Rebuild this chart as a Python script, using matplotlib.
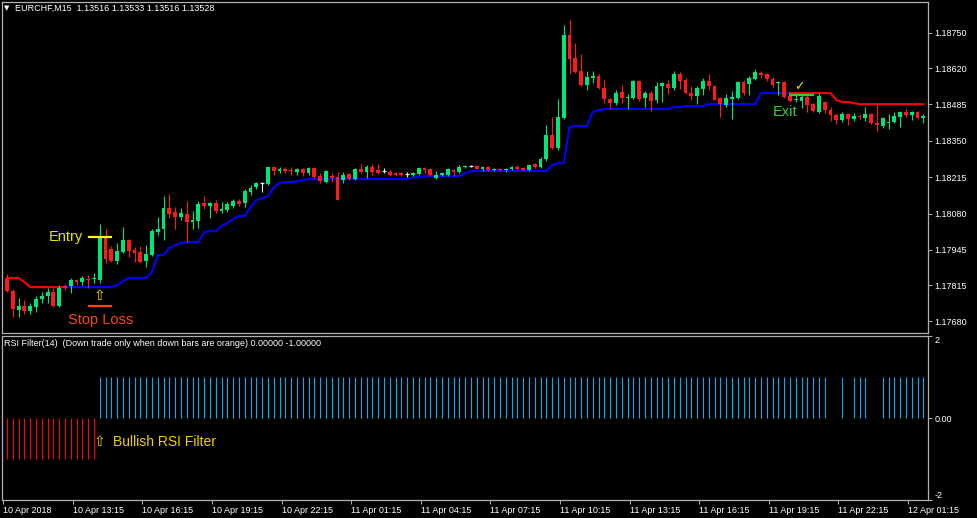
import matplotlib
matplotlib.use("Agg")
import matplotlib.pyplot as plt
import numpy as np

plt.rcParams['font.family'] = ['Liberation Sans', 'DejaVu Sans']

# ---------------- data ----------------
symbol_title = "EURCHF,M15  1.13516 1.13533 1.13516 1.13528"
ind_title = "RSI Filter(14)  (Down trade only when down bars are orange) 0.00000 -1.00000"

opens = [1.17837, 1.17792, 1.17722, 1.17737, 1.17718, 1.17733, 1.17763, 1.17774, 1.17789, 1.17737,
         1.17811, 1.17811, 1.17833, 1.17826, 1.17837, 1.17837, 1.17833, 1.17993, 1.17948, 1.17904,
         1.17937, 1.17982, 1.17945, 1.17937, 1.17904, 1.17926, 1.18011, 1.18023, 1.18101, 1.18085,
         1.18067, 1.18078, 1.18048, 1.18052, 1.18119, 1.18108, 1.18119, 1.18089, 1.18093, 1.18108,
         1.18126, 1.18119, 1.18160, 1.18178, 1.18193, 1.18189, 1.18252, 1.18238, 1.18245, 1.18242,
         1.18234, 1.18245, 1.18230, 1.18249, 1.18219, 1.18197, 1.18219, 1.18215, 1.18204, 1.18227,
         1.18208, 1.18245, 1.18234, 1.18252, 1.18242, 1.18238, 1.18234, 1.18230, 1.18230, 1.18227,
         1.18223, 1.18227, 1.18249, 1.18245, 1.18212, 1.18223, 1.18223, 1.18242, 1.18234, 1.18252,
         1.18256, 1.18256, 1.18245, 1.18252, 1.18242, 1.18245, 1.18242, 1.18245, 1.18252, 1.18249,
         1.18242, 1.18264, 1.18252, 1.18282, 1.18371, 1.18323, 1.18434, 1.18742, 1.18657, 1.18609,
         1.18557, 1.18583, 1.18590, 1.18545, 1.18505, 1.18490, 1.18531, 1.18508, 1.18508, 1.18572,
         1.18508, 1.18527, 1.18501, 1.18553, 1.18560, 1.18545, 1.18597, 1.18575, 1.18527, 1.18516,
         1.18542, 1.18572, 1.18553, 1.18508, 1.18482, 1.18505, 1.18508, 1.18568, 1.18560, 1.18579,
         1.18601, 1.18597, 1.18579, 1.18564, 1.18568, 1.18516, 1.18501, 1.18497, 1.18512, 1.18486,
         1.18457, 1.18494, 1.18464, 1.18445, 1.18427, 1.18449, 1.18431, 1.18442, 1.18434, 1.18449,
         1.18416, 1.18405, 1.18416, 1.18419, 1.18438, 1.18457, 1.18445, 1.18457, 1.18434]
highs = [1.17855, 1.17800, 1.17767, 1.17759, 1.17748, 1.17774, 1.17789, 1.17804, 1.17804, 1.17815,
         1.17818, 1.17841, 1.17837, 1.17848, 1.17852, 1.17859, 1.18041, 1.18023, 1.17959, 1.17971,
         1.18030, 1.17985, 1.17956, 1.17959, 1.17963, 1.18023, 1.18067, 1.18145, 1.18152, 1.18104,
         1.18101, 1.18126, 1.18089, 1.18126, 1.18145, 1.18123, 1.18130, 1.18123, 1.18123, 1.18134,
         1.18134, 1.18171, 1.18186, 1.18197, 1.18197, 1.18256, 1.18256, 1.18252, 1.18252, 1.18252,
         1.18249, 1.18249, 1.18252, 1.18252, 1.18230, 1.18242, 1.18230, 1.18234, 1.18234, 1.18230,
         1.18249, 1.18264, 1.18260, 1.18264, 1.18264, 1.18249, 1.18242, 1.18234, 1.18234, 1.18234,
         1.18234, 1.18252, 1.18252, 1.18249, 1.18238, 1.18234, 1.18249, 1.18245, 1.18260, 1.18260,
         1.18260, 1.18260, 1.18256, 1.18256, 1.18249, 1.18249, 1.18249, 1.18256, 1.18260, 1.18252,
         1.18264, 1.18267, 1.18290, 1.18408, 1.18438, 1.18505, 1.18779, 1.18798, 1.18712, 1.18672,
         1.18609, 1.18609, 1.18597, 1.18575, 1.18508, 1.18538, 1.18557, 1.18523, 1.18575, 1.18575,
         1.18534, 1.18534, 1.18568, 1.18568, 1.18575, 1.18609, 1.18605, 1.18583, 1.18553, 1.18553,
         1.18583, 1.18597, 1.18557, 1.18512, 1.18523, 1.18534, 1.18572, 1.18575, 1.18590, 1.18616,
         1.18609, 1.18601, 1.18586, 1.18572, 1.18572, 1.18534, 1.18523, 1.18520, 1.18531, 1.18490,
         1.18527, 1.18497, 1.18475, 1.18453, 1.18457, 1.18453, 1.18453, 1.18449, 1.18475, 1.18453,
         1.18486, 1.18438, 1.18449, 1.18457, 1.18460, 1.18468, 1.18460, 1.18460, 1.18449]
lows = [1.17789, 1.17696, 1.17696, 1.17707, 1.17707, 1.17715, 1.17748, 1.17748, 1.17733, 1.17733,
        1.17796, 1.17785, 1.17815, 1.17815, 1.17804, 1.17822, 1.17822, 1.17896, 1.17900, 1.17893,
        1.17933, 1.17919, 1.17900, 1.17896, 1.17881, 1.17922, 1.18000, 1.17982, 1.18063, 1.18023,
        1.18056, 1.17974, 1.18023, 1.18026, 1.18097, 1.18063, 1.18082, 1.18082, 1.18085, 1.18101,
        1.18108, 1.18104, 1.18149, 1.18171, 1.18160, 1.18186, 1.18223, 1.18230, 1.18230, 1.18223,
        1.18223, 1.18219, 1.18223, 1.18212, 1.18193, 1.18193, 1.18197, 1.18130, 1.18193, 1.18204,
        1.18204, 1.18230, 1.18212, 1.18223, 1.18227, 1.18230, 1.18219, 1.18219, 1.18219, 1.18215,
        1.18219, 1.18223, 1.18230, 1.18219, 1.18208, 1.18219, 1.18219, 1.18219, 1.18230, 1.18249,
        1.18252, 1.18245, 1.18238, 1.18238, 1.18238, 1.18238, 1.18234, 1.18242, 1.18242, 1.18238,
        1.18238, 1.18249, 1.18249, 1.18275, 1.18319, 1.18316, 1.18431, 1.18597, 1.18601, 1.18553,
        1.18538, 1.18564, 1.18542, 1.18490, 1.18468, 1.18482, 1.18490, 1.18468, 1.18505, 1.18497,
        1.18475, 1.18460, 1.18490, 1.18494, 1.18523, 1.18538, 1.18542, 1.18523, 1.18501, 1.18486,
        1.18520, 1.18538, 1.18501, 1.18438, 1.18475, 1.18431, 1.18505, 1.18520, 1.18520, 1.18575,
        1.18583, 1.18572, 1.18549, 1.18520, 1.18508, 1.18494, 1.18494, 1.18471, 1.18457, 1.18457,
        1.18453, 1.18453, 1.18423, 1.18412, 1.18419, 1.18408, 1.18423, 1.18431, 1.18423, 1.18412,
        1.18386, 1.18397, 1.18394, 1.18416, 1.18401, 1.18438, 1.18427, 1.18431, 1.18416]
closes = [1.17792, 1.17726, 1.17737, 1.17718, 1.17737, 1.17763, 1.17774, 1.17789, 1.17737, 1.17804,
          1.17804, 1.17833, 1.17826, 1.17841, 1.17833, 1.17841, 1.17993, 1.17911, 1.17904, 1.17941,
          1.17982, 1.17941, 1.17933, 1.17900, 1.17930, 1.18015, 1.18023, 1.18101, 1.18078, 1.18067,
          1.18082, 1.18048, 1.18056, 1.18115, 1.18108, 1.18119, 1.18089, 1.18097, 1.18115, 1.18126,
          1.18115, 1.18163, 1.18175, 1.18193, 1.18193, 1.18252, 1.18238, 1.18245, 1.18238, 1.18238,
          1.18245, 1.18230, 1.18249, 1.18215, 1.18200, 1.18238, 1.18212, 1.18130, 1.18223, 1.18208,
          1.18245, 1.18234, 1.18252, 1.18234, 1.18230, 1.18238, 1.18223, 1.18223, 1.18223, 1.18227,
          1.18230, 1.18249, 1.18242, 1.18223, 1.18223, 1.18230, 1.18245, 1.18234, 1.18252, 1.18256,
          1.18256, 1.18245, 1.18252, 1.18242, 1.18245, 1.18242, 1.18245, 1.18252, 1.18245, 1.18242,
          1.18260, 1.18252, 1.18282, 1.18371, 1.18323, 1.18438, 1.18742, 1.18653, 1.18605, 1.18557,
          1.18586, 1.18590, 1.18545, 1.18505, 1.18490, 1.18527, 1.18508, 1.18512, 1.18572, 1.18505,
          1.18527, 1.18497, 1.18553, 1.18564, 1.18545, 1.18597, 1.18572, 1.18527, 1.18516, 1.18545,
          1.18572, 1.18553, 1.18501, 1.18486, 1.18508, 1.18512, 1.18568, 1.18527, 1.18583, 1.18605,
          1.18594, 1.18579, 1.18557, 1.18568, 1.18512, 1.18497, 1.18505, 1.18512, 1.18482, 1.18460,
          1.18516, 1.18464, 1.18445, 1.18427, 1.18449, 1.18431, 1.18442, 1.18438, 1.18449, 1.18416,
          1.18408, 1.18434, 1.18419, 1.18442, 1.18457, 1.18445, 1.18457, 1.18434, 1.18442]

# trailing support (blue) from bar 10 to bar 135
support_start = 10
support_vals = [1.17807, 1.17807, 1.17807, 1.17807, 1.17807, 1.17807, 1.17807, 1.17807, 1.17807,
                1.17815, 1.17830, 1.17841, 1.17841, 1.17841, 1.17841, 1.17863, 1.17926, 1.17926,
                1.17952, 1.17963, 1.17971, 1.17974, 1.17974, 1.17974, 1.18011, 1.18015, 1.18015,
                1.18034, 1.18045, 1.18060, 1.18071, 1.18071, 1.18104, 1.18130, 1.18137, 1.18145,
                1.18178, 1.18193, 1.18197, 1.18197, 1.18200, 1.18204,
                1.18208, 1.18208, 1.18208, 1.18208, 1.18208, 1.18208, 1.18208, 1.18208, 1.18208,
                1.18208, 1.18208, 1.18208, 1.18208, 1.18208, 1.18208, 1.18208, 1.18208, 1.18208,
                1.18215, 1.18215, 1.18219, 1.18219, 1.18219, 1.18219, 1.18219, 1.18219, 1.18219,
                1.18230, 1.18238, 1.18238, 1.18238, 1.18238, 1.18238, 1.18238, 1.18238, 1.18238,
                1.18238, 1.18238, 1.18238, 1.18238, 1.18238, 1.18238, 1.18260, 1.18267, 1.18267,
                1.18401, 1.18405, 1.18405, 1.18405, 1.18456, 1.18464,
                1.18468, 1.18468, 1.18468, 1.18468, 1.18468, 1.18468, 1.18468, 1.18468, 1.18468,
                1.18468, 1.18468, 1.18468, 1.18475, 1.18475, 1.18479, 1.18479, 1.18479, 1.18479,
                1.18486, 1.18486, 1.18486, 1.18486, 1.18486, 1.18486, 1.18486, 1.18486, 1.18486,
                1.18527, 1.18527, 1.18527, 1.18527, 1.18527, 1.18527]

# trailing resistance (red): bars 0-10 and bars 135-158
resist1_start = 0
resist1_vals = [1.17841, 1.17841, 1.17841, 1.17826, 1.17807, 1.17807, 1.17807, 1.17807, 1.17807,
                1.17807, 1.17807]
resist2_start = 135
resist2_vals = [1.18527, 1.18527, 1.18527, 1.18527, 1.18527, 1.18527, 1.18527, 1.18527, 1.18501,
                1.18494, 1.18494, 1.18490, 1.18486, 1.18486, 1.18486, 1.18486, 1.18486, 1.18486,
                1.18486, 1.18486, 1.18486, 1.18486, 1.18486, 1.18486]

# RSI filter histogram (+1 bullish, -1 bearish, 0 none), bars 0-158
rsi_filter = [-1, -1, -1, -1, -1, -1, -1, -1, -1, -1, -1, -1, -1, -1, -1, -1,
              1, 1, 1, 1, 1, 1, 1, 1, 1, 1, 1, 1, 1, 1, 1, 1, 1, 1, 1, 1, 1, 1, 1, 1,
              1, 1, 1, 1, 1, 1, 1, 1, 1, 1, 1, 1, 1, 1, 1, 1, 1, 1, 1, 1, 1, 1, 1, 1,
              1, 1, 1, 1, 1, 1, 1, 1, 1, 1, 1, 1, 1, 1, 1, 1, 1, 1, 1, 1, 1, 1, 1, 1,
              1, 1, 1, 1, 1, 1, 1, 1, 1, 1, 1, 1, 1, 1, 1, 1, 1, 1, 1, 1, 1, 1, 1, 1,
              1, 1, 1, 1, 1, 1, 1, 1, 1, 1, 1, 1, 1, 1, 1, 1, 1, 1, 1, 1, 1, 1, 1, 1,
              1, 1, 1, 1, 1, 1, 0, 0, 1, 0, 1, 1, 1, 0, 0, 1, 1, 1, 1, 1, 1, 1, 1]

price_ticks = [1.18750, 1.18620, 1.18485, 1.18350, 1.18215, 1.18080, 1.17945, 1.17815, 1.17680]
time_tick_bars = [0, 12, 24, 36, 48, 60, 72, 84, 96, 108, 120, 132, 144, 156]
time_tick_labels = ["10 Apr 2018", "10 Apr 13:15", "10 Apr 16:15", "10 Apr 19:15", "10 Apr 22:15",
                    "11 Apr 01:15", "11 Apr 04:15", "11 Apr 07:15", "11 Apr 10:15", "11 Apr 13:15",
                    "11 Apr 16:15", "11 Apr 19:15", "11 Apr 22:15", "12 Apr 01:15"]
ind_ticks = [2, 0, -2]
ind_tick_labels = ["2", "0.00", "-2"]

entry_bar = 16
entry_price = 1.17993
stop_price = 1.17737
exit_bar = 137
exit_price = 1.18520

# ---------------- figure ----------------
W, H = 977, 518
fig = plt.figure(figsize=(W / 100, H / 100), dpi=100, facecolor='black')
ax1 = fig.add_axes([2 / W, (H - 333) / H, 926 / W, 331 / H])
ax2 = fig.add_axes([2 / W, (H - 500) / H, 926 / W, 164 / H])

frame = '#b0b0b0'
for ax in (ax1, ax2):
    ax.set_facecolor('black')
    for s in ax.spines.values():
        s.set_color(frame)
        s.set_linewidth(0.9)
    ax.set_xlim(-0.86, 158.8)
    ax.yaxis.tick_right()
    ax.tick_params(axis='y', colors=frame, labelcolor='white', length=3, width=0.7,
                   labelsize=6.5, pad=1.5, direction='out')

o = np.array(opens); h = np.array(highs); l = np.array(lows); c = np.array(closes)
idx = np.arange(len(o))
bull = '#00e676'
bear = '#ff1a1a'
cols = np.where(c > o + 1e-7, bull, np.where(c < o - 1e-7, bear, '#e8e8e8'))

ax1.vlines(idx, l, h, colors=cols, linewidth=0.8, zorder=3)
body_lo = np.minimum(o, c)
body_h = np.abs(c - o)
is_doji = body_h < 1e-7
ax1.bar(idx[~is_doji], body_h[~is_doji], bottom=body_lo[~is_doji], width=0.66,
        color=cols[~is_doji], linewidth=0, zorder=4)
ax1.hlines(o[is_doji], idx[is_doji] - 0.35, idx[is_doji] + 0.35, colors=cols[is_doji],
           linewidth=0.9, zorder=4)

# trailing lines
sx = np.arange(support_start, support_start + len(support_vals))
ax1.plot(sx, support_vals, color='#0000ff', linewidth=1.5, zorder=2)
r1x = np.arange(resist1_start, resist1_start + len(resist1_vals))
ax1.plot(r1x, resist1_vals, color='#ff0000', linewidth=1.5, zorder=2)
r2x = np.arange(resist2_start, resist2_start + len(resist2_vals))
ax1.plot(r2x, resist2_vals, color='#ff0000', linewidth=1.5, zorder=2)

ax1.set_ylim(1.17637, 1.18865)
ax1.set_yticks(price_ticks)
ax1.set_yticklabels([f"{v:.5f}" for v in price_ticks])
ax1.set_xticks([])

# annotations
ax1.hlines(entry_price, entry_bar - 2.07, entry_bar + 2.07, color='#ffff00', linewidth=1.6, zorder=5)
ax1.hlines(stop_price, entry_bar - 2.07, entry_bar + 2.07, color='#ff4500', linewidth=1.6, zorder=5)
ax1.text(entry_bar - 2.9, entry_price, "Entry", ha='right', va='center', color='#e6e600',
         fontsize=10.5, zorder=6)
ax1.text(entry_bar, 1.17776, "⇧", ha='center', va='center', color='#ffd700', fontsize=10,
         family=['DejaVu Sans'], zorder=6)
ax1.text(entry_bar + 0.1, 1.17685, "Stop Loss", ha='center', va='center', color='#ff4500',
         fontsize=10.5, zorder=6)
ax1.hlines(exit_price, exit_bar - 2.1, exit_bar + 2.1, color='#32cd32', linewidth=1.6, zorder=5)
ax1.text(exit_bar - 2.9, 1.18457, "Exit", ha='center', va='center', color='#3ccf3c',
         fontsize=10.5, zorder=6)
ax1.text(exit_bar - 0.3, 1.18550, "✓", ha='center', va='center', color='#e6e600', fontsize=9,
         family=['DejaVu Sans'], zorder=6)

fig.text(6.5 / W, 1 - 8 / H, "▼", ha='center', va='center', color='white', fontsize=5,
         family=['DejaVu Sans'])
fig.text(15 / W, 1 - 8 / H, symbol_title, ha='left', va='center', color='white', fontsize=6.5)

# indicator panel
fv = np.array(rsi_filter)
fidx = np.arange(len(fv))
pos = fv > 0
neg = fv < 0
ax2.vlines(fidx[pos], 0, fv[pos], colors='#00aef0', linewidth=0.8)
ax2.vlines(fidx[neg], 0, fv[neg], colors='#ff0000', linewidth=0.8)
ax2.set_ylim(-2.0, 2.0)
ax2.set_yticks(ind_ticks)
ax2.set_yticklabels(ind_tick_labels)
lbls = ax2.get_yticklabels()
lbls[0].set_va('top')
lbls[2].set_va('bottom')
ax2.text(entry_bar, -0.585, "⇧", ha='center', va='center', color='#f0d000', fontsize=10,
         family=['DejaVu Sans'])
ax2.text(entry_bar + 2.2, -0.585, "Bullish RSI Filter", ha='left', va='center', color='#f0d000',
         fontsize=10)
fig.text(4 / W, 1 - 344 / H, ind_title, ha='left', va='center', color='white', fontsize=6.5)

ax2.set_xticks([b - 0.65 for b in time_tick_bars])
ax2.set_xticklabels(time_tick_labels)
ax2.tick_params(axis='x', colors=frame, labelcolor='white', length=3, width=0.7,
                labelsize=6.5, pad=1, direction='out')
for t in ax2.get_xticklabels():
    t.set_ha('left')

fig.savefig('out.png', dpi=100, facecolor='black')
